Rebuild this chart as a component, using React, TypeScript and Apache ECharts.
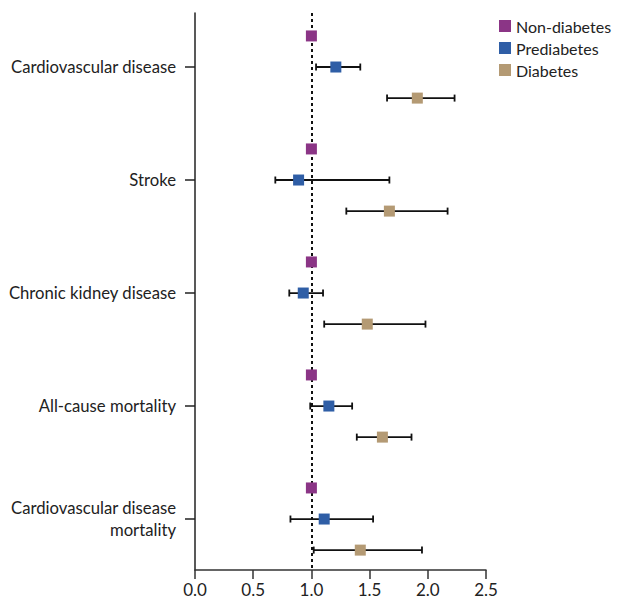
import React, { useEffect, useRef } from "react";
import * as echarts from "echarts";

const categories = [
  "Cardiovascular disease",
  "Stroke",
  "Chronic kidney disease",
  "All-cause mortality",
  "Cardiovascular disease\nmortality",
];
const groups = ["Non-diabetes", "Prediabetes", "Diabetes"];
const colors = ["#8B3586", "#2F5EA6", "#B49A74"];
const offsets = [-0.275, 0, 0.275];

const nonDiabetesHR = [1.0, 1.0, 1.0, 1.0, 1.0];
const prediabetesHR = [1.21, 0.89, 0.93, 1.15, 1.11];
const prediabetesLo = [1.04, 0.69, 0.81, 0.99, 0.82];
const prediabetesHi = [1.42, 1.67, 1.1, 1.35, 1.53];
const diabetesHR = [1.91, 1.67, 1.48, 1.61, 1.42];
const diabetesLo = [1.65, 1.3, 1.11, 1.39, 1.02];
const diabetesHi = [2.23, 2.17, 1.98, 1.86, 1.95];

export default function App() {
  const ref = useRef<HTMLDivElement>(null);
  useEffect(() => {
    document.body.style.margin = "0";
    const chart = echarts.init(ref.current!, null, { renderer: "svg" });
    const font = "Lato, sans-serif";
    const hrs = [nonDiabetesHR, prediabetesHR, diabetesHR];
    const errData: number[][] = [];
    categories.forEach((_, i) => {
      errData.push([prediabetesLo[i], prediabetesHi[i], i + offsets[1]]);
      errData.push([diabetesLo[i], diabetesHi[i], i + offsets[2]]);
    });
    const scatterSeries = groups.map((g, gi) => ({
      name: g,
      type: "scatter",
      symbol: "rect",
      symbolSize: 11,
      z: 5,
      itemStyle: { color: colors[gi], opacity: 1 },
      data: hrs[gi].map((v, i) => [v, i + offsets[gi]]),
      ...(gi === 0
        ? {
            markLine: {
              silent: true,
              symbol: "none",
              label: { show: false },
              lineStyle: { color: "#111", width: 2, type: [3, 3] },
              data: [{ xAxis: 1 }],
              z: 1,
            },
          }
        : {}),
    }));
    chart.setOption({
      animation: false,
      grid: { left: 195, right: 131, top: 13, bottom: 33, outerBoundsMode: "none" },
      legend: {
        orient: "vertical",
        left: 499,
        top: 18,
        padding: 0,
        itemWidth: 12,
        itemHeight: 12,
        itemGap: 6,
        icon: "rect",
        data: groups,
        textStyle: { fontSize: 16, color: "#222", fontFamily: font },
      },
      xAxis: {
        type: "value",
        min: 0,
        max: 2.5,
        interval: 0.5,
        splitLine: { show: false },
        axisLine: { show: true, onZero: false, lineStyle: { color: "#333", width: 1.5 } },
        axisTick: { show: true, length: 9, lineStyle: { color: "#333", width: 1.5 } },
        axisLabel: {
          color: "#222",
          fontSize: 17,
          fontFamily: font,
          margin: 11,
          formatter: (v: number) => v.toFixed(1),
        },
      },
      yAxis: {
        type: "value",
        inverse: true,
        min: -0.478,
        max: 4.451,
        splitLine: { show: false },
        axisLine: { show: true, onZero: false, lineStyle: { color: "#222", width: 1.5 } },
        axisTick: {
          show: true,
          length: 10,
          customValues: [0, 1, 2, 3, 4],
          lineStyle: { color: "#222", width: 1.5 },
        },
        axisLabel: {
          customValues: [0, 1, 2, 3, 4],
          color: "#222",
          fontSize: 16.7,
          fontFamily: font,
          margin: 19,
          align: "right",
          lineHeight: 22,
          formatter: (v: number) => categories[Math.round(v)] ?? "",
        },
      },
      series: [
        {
          type: "custom",
          z: 3,
          silent: true,
          data: errData,
          renderItem: (params: any, api: any) => {
            const lo = api.coord([api.value(0), api.value(2)]);
            const hi = api.coord([api.value(1), api.value(2)]);
            const cap = 3.5;
            const style = { stroke: "#111", lineWidth: 1.8 };
            return {
              type: "group",
              children: [
                { type: "line", shape: { x1: lo[0], y1: lo[1], x2: hi[0], y2: hi[1] }, style },
                { type: "line", shape: { x1: lo[0], y1: lo[1] - cap, x2: lo[0], y2: lo[1] + cap }, style },
                { type: "line", shape: { x1: hi[0], y1: hi[1] - cap, x2: hi[0], y2: hi[1] + cap }, style },
              ],
            };
          },
          encode: { x: [0, 1], y: 2 },
        },
        ...scatterSeries,
      ],
    });
    return () => chart.dispose();
  }, []);
  return <div ref={ref} style={{ width: 617, height: 603 }} />;
}
